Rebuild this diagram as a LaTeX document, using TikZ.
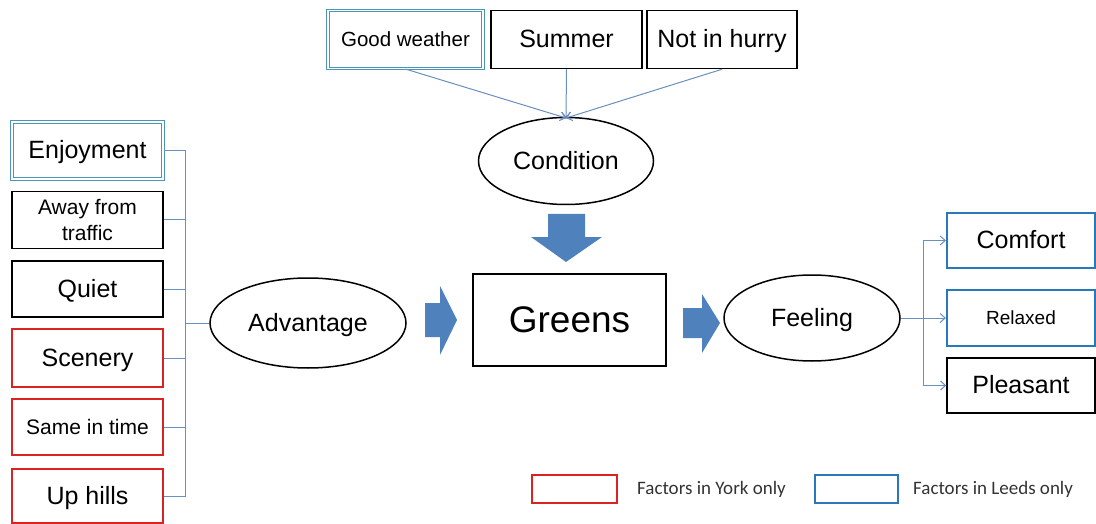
\documentclass[tikz,border=0pt]{standalone}
\usepackage{fontspec}
\setmainfont{Liberation Sans}
\newfontfamily\legfont{Carlito}
\usetikzlibrary{arrows.meta,shapes.geometric}
\definecolor{conn}{HTML}{6A8EC0}
\definecolor{arrfill}{HTML}{4F81BD}
\definecolor{dblue}{HTML}{4A96B8}
\definecolor{sblue}{HTML}{2A78BC}
\definecolor{sred}{HTML}{DD2222}
\tikzset{
  fs/.style={font=\fontsize{#1}{#1}\selectfont, text height=#1*0.72pt, text depth=#1*0.05pt},
  boxbase/.style={draw=black, line width=1.5pt, inner sep=0pt, align=center, minimum width=151pt, minimum height=56pt},
  box/.style={boxbase, fs=25},
  redbox/.style={box, draw=sred, line width=2.4pt},
  bluebox/.style={box, draw=sblue, line width=2.2pt},
  dblbox/.style={box, draw=dblue, double=white, double distance=1.3pt, line width=1.1pt},
  oval/.style={draw=black, line width=1.5pt, ellipse, inner sep=0pt, fs=25},
  link/.style={draw=conn, line width=1pt},
  linkarr/.style={link, -{Straight Barb[length=5pt,width=9pt]}},
  legtext/.style={anchor=west, inner sep=0pt, font=\legfont\fontsize{19}{21}\selectfont, text=black!80},
  blockarr/.style={fill=arrfill, draw=none}
}
\begin{document}
\begin{tikzpicture}[x=1pt,y=-1pt]
\useasboundingbox (0,0) rectangle (1096,524);
% top conditions
\node[dblbox, minimum width=155pt, minimum height=58pt, fs=20.5] (gw) at (405.5,39.5) {Good weather};
\node[box, minimum width=151pt, minimum height=58pt] (sum) at (566.5,39.5) {Summer};
\node[box, minimum width=150pt, minimum height=58pt] (nih) at (722,39.5) {Not in hurry};
\node[oval, minimum width=175pt, minimum height=87pt] (cond) at (566,161) {Condition};
\coordinate (ctop) at (566,118);
\draw[linkarr] (gw.south) -- (ctop);
\draw[linkarr] (sum.south) -- (ctop);
\draw[linkarr] (nih.south) -- (ctop);
% centre
\node[box, minimum width=193pt, minimum height=92pt, fs=37] (gr) at (569.5,320) {Greens};
\node[oval, minimum width=196pt, minimum height=90pt] (adv) at (308,323) {Advantage};
\node[oval, minimum width=176pt, minimum height=86pt] (feel) at (812,318) {Feeling};
% block arrows
\path[blockarr] (548,214) -- (585,214) -- (585,237) -- (602,237) -- (566,262) -- (531,237) -- (548,237) -- cycle;
\path[blockarr] (425,303) -- (440,303) -- (440,286) -- (457,320) -- (440,355) -- (440,337) -- (425,337) -- cycle;
\path[blockarr] (683,308) -- (702,308) -- (702,294) -- (720,323) -- (702,353) -- (702,338) -- (683,338) -- cycle;
% left factors
\node[dblbox, minimum height=57pt] (enj) at (87.5,150.5) {Enjoyment};
\node[boxbase, minimum height=57pt, font=\fontsize{21}{26}\selectfont] (away) at (87.5,220) {Away from\\traffic};
\node[box] (qui) at (87.5,289) {Quiet};
\node[redbox, minimum height=58pt] (scen) at (87.5,358) {Scenery};
\node[redbox, fs=21] (same) at (87.5,427) {Same in time};
\node[redbox, minimum height=54pt] (up) at (87.5,496) {Up hills};
\coordinate (bus) at (185,323);
\draw[link] (enj.east) -- (enj.east -| bus) -- (up.east -| bus) -- (up.east);
\draw[link] (away.east) -- (away.east -| bus);
\draw[link] (qui.east) -- (qui.east -| bus);
\draw[link] (scen.east) -- (scen.east -| bus);
\draw[link] (same.east) -- (same.east -| bus);
\draw[link] (bus) -- (adv.west);
% right feelings
\node[bluebox, minimum width=148pt, minimum height=55pt] (com) at (1021,240.5) {Comfort};
\node[bluebox, minimum width=148pt, minimum height=56pt, fs=19] (rel) at (1021,318) {Relaxed};
\node[box, minimum width=148pt, minimum height=55pt] (ple) at (1021,385.5) {Pleasant};
\coordinate (rbus) at (923,318);
\draw[link] (com.west -| rbus) -- (ple.west -| rbus);
\draw[linkarr] (com.west -| rbus) -- (com.west);
\draw[linkarr] (ple.west -| rbus) -- (ple.west);
\draw[linkarr] (feel.east) -- (rel.west);
% legend
\node[draw=sred, line width=1.6pt, minimum width=85pt, minimum height=28pt, inner sep=0pt] (lr) at (574.5,489) {};
\node[legtext] (lrt) at (637,489) {Factors in York only};
\node[draw=sblue, line width=1.6pt, minimum width=83pt, minimum height=28pt, inner sep=0pt] (lb) at (856.5,489) {};
\node[legtext] (lbt) at (913,489) {Factors in Leeds only};
\end{tikzpicture}
\end{document}
